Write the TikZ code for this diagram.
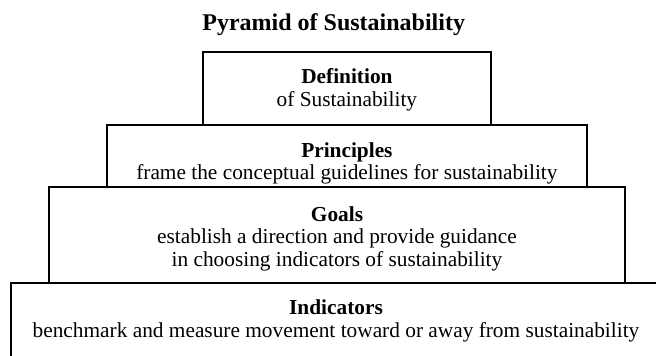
\documentclass[tikz,border=0pt]{standalone}
\usepackage{fontspec}
\setmainfont{Liberation Serif}

\tikzset{every picture/.style={line width=1.5pt}}
\tikzset{
  tier/.style={draw, anchor=north west, inner sep=0pt, outer sep=0pt},
  tiertext/.style={anchor=north, inner sep=0pt, align=center, font=\fontsize{16}{17}\selectfont},
  headline/.style={anchor=base, inner sep=0pt, font=\bfseries\fontsize{18}{20}\selectfont}
}

\begin{document}
\begin{tikzpicture}[x=0.75pt,y=0.75pt,yscale=-1,xscale=1]
%set diagram to 656 x 356
\useasboundingbox (0,0) rectangle (656,356);

% Title
\node [headline] (title) at (333.7,30.7) {Pyramid of Sustainability};

% Tier boxes, bottom one runs past the page
\node [tier, minimum width=288.3*0.75pt, minimum height=73.3*0.75pt] (definition) at (202.7,51.7) {};
\node [tier, minimum width=480.5*0.75pt, minimum height=62.3*0.75pt] (principles) at (106.5,125) {};
\node [tier, minimum width=576.3*0.75pt, minimum height=96*0.75pt] (goals) at (49,187.3) {};
\node [tier, minimum width=680*0.75pt, minimum height=100*0.75pt] (indicators) at (11,283.3) {};

% Tier texts
\node [tiertext] (definitiontext) at (346.9,67.8) {\textbf{Definition}\\of Sustainability};
\node [tiertext] (principlestext) at (346.9,141.3) {\textbf{Principles}\\frame the conceptual guidelines for sustainability};
\node [tiertext] (goalstext) at (337,205.3) {\textbf{Goals}\\establish a direction and provide guidance\\in choosing indicators of sustainability};
\node [tiertext] (indicatorstext) at (336,298.8) {\textbf{Indicators}\\benchmark and measure movement toward or away from sustainability};

\end{tikzpicture}
\end{document}
